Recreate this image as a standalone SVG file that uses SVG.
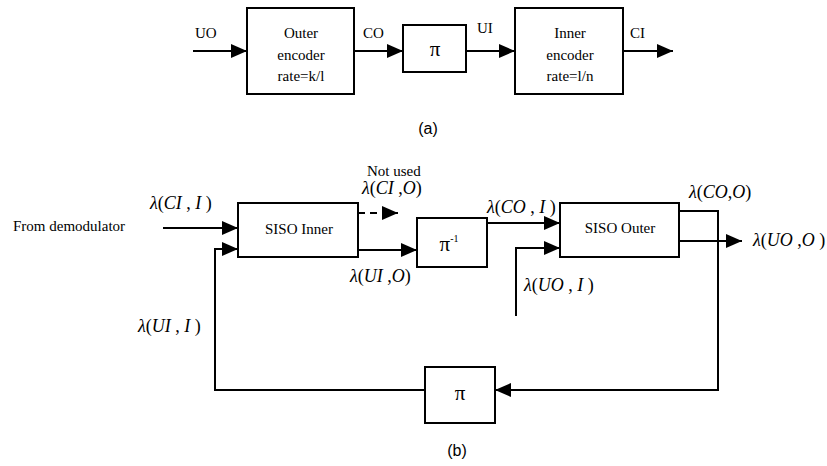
<svg xmlns="http://www.w3.org/2000/svg" width="827" height="466" viewBox="0 0 827 466">
<style>
.box{fill:#fff;stroke:#000;stroke-width:2}
.ln{fill:none;stroke:#000;stroke-width:2}
.t{font-family:"Liberation Serif","Times New Roman",serif;font-size:15px;fill:#000}
.c{text-anchor:middle}
.lam{font-family:"Liberation Serif","Times New Roman",serif;font-size:18px;fill:#000}
.i{font-style:italic}
.pi{font-family:"Liberation Serif","Times New Roman",serif;font-size:21px;fill:#000;text-anchor:middle}
.cap{font-family:"Liberation Sans",Arial,sans-serif;font-size:16px;fill:#000;text-anchor:middle}
</style>
<defs>
<marker id="ah" markerUnits="userSpaceOnUse" markerWidth="16" markerHeight="14" refX="16" refY="7" orient="auto">
<path d="M0,0 L16,7 L0,14 Z" fill="#000" stroke="none"/>
</marker>
</defs>
<g id="connectors">
<path class="ln" d="M193,51 H247" marker-end="url(#ah)"/>
<path class="ln" d="M354,51 H403" marker-end="url(#ah)"/>
<path class="ln" d="M466,51 H515" marker-end="url(#ah)"/>
<path class="ln" d="M623,51 H673" marker-end="url(#ah)"/>
<path class="ln" d="M163,228 H238" marker-end="url(#ah)"/>
<path class="ln" d="M358,213 H398" stroke-dasharray="7,5" marker-end="url(#ah)"/>
<path class="ln" d="M358,250 H417" marker-end="url(#ah)"/>
<path class="ln" d="M487,223 H560" marker-end="url(#ah)"/>
<path class="ln" d="M516,316 V248 H560" marker-end="url(#ah)"/>
<path class="ln" d="M679,211 H718 V390 H495" marker-end="url(#ah)"/>
<path class="ln" d="M679,241 H742" marker-end="url(#ah)"/>
<path class="ln" d="M425,390 H215 V249 H238" marker-end="url(#ah)"/>
</g>
<g id="outer-encoder">
<rect class="box" x="247" y="8" width="107" height="86"/>
<text class="t c" x="301" y="38">Outer</text>
<text class="t c" x="301" y="60">encoder</text>
<text class="t c" x="301" y="81">rate=k/l</text>
</g>
<g id="interleaver-a">
<rect class="box" x="403" y="25" width="63" height="47"/>
<text class="pi" x="435" y="56">π</text>
</g>
<g id="inner-encoder">
<rect class="box" x="515" y="8" width="108" height="86"/>
<text class="t c" x="570" y="38">Inner</text>
<text class="t c" x="570" y="60">encoder</text>
<text class="t c" x="570" y="81">rate=l/n</text>
</g>
<g id="labels-a">
<text class="t" x="195" y="38">UO</text>
<text class="t" x="363" y="38">CO</text>
<text class="t" x="477" y="33">UI</text>
<text class="t" x="630" y="38">CI</text>
<text class="cap" x="428" y="134">(a)</text>
</g>
<g id="siso-inner">
<rect class="box" x="238" y="203" width="120" height="54"/>
<text class="t c" x="299" y="234">SISO Inner</text>
</g>
<g id="deinterleaver">
<rect class="box" x="417" y="218" width="70" height="49"/>
<text class="pi" x="449" y="251">π<tspan font-size="10" dy="-9">-1</tspan></text>
</g>
<g id="siso-outer">
<rect class="box" x="560" y="203" width="119" height="54"/>
<text class="t c" x="620" y="233">SISO Outer</text>
</g>
<g id="interleaver-b">
<rect class="box" x="425" y="367" width="70" height="56"/>
<text class="pi" x="460" y="400">π</text>
</g>
<g id="labels-b">
<text class="t" x="13" y="231" font-size="15.5">From demodulator</text>
<text class="lam" x="150" y="209"><tspan class="i">λ</tspan>(<tspan class="i">CI</tspan> , <tspan class="i">I</tspan> )</text>
<text class="t" x="367" y="176">Not used</text>
<text class="lam" x="362" y="194"><tspan class="i">λ</tspan>(<tspan class="i">CI</tspan> ,<tspan class="i">O</tspan>)</text>
<text class="lam" x="350" y="282"><tspan class="i">λ</tspan>(<tspan class="i">UI</tspan> ,<tspan class="i">O</tspan>)</text>
<text class="lam" x="487" y="213"><tspan class="i">λ</tspan>(<tspan class="i">CO</tspan> , <tspan class="i">I</tspan> )</text>
<text class="lam" x="524" y="291"><tspan class="i">λ</tspan>(<tspan class="i">UO</tspan> , <tspan class="i">I</tspan> )</text>
<text class="lam" x="689" y="198"><tspan class="i">λ</tspan>(<tspan class="i">CO</tspan>,<tspan class="i">O</tspan>)</text>
<text class="lam" x="753" y="246"><tspan class="i">λ</tspan>(<tspan class="i">UO</tspan> ,<tspan class="i">O</tspan> )</text>
<text class="lam" x="138" y="332"><tspan class="i">λ</tspan>(<tspan class="i">UI</tspan> , <tspan class="i">I</tspan> )</text>
<text class="cap" x="457" y="456">(b)</text>
</g>
</svg>
